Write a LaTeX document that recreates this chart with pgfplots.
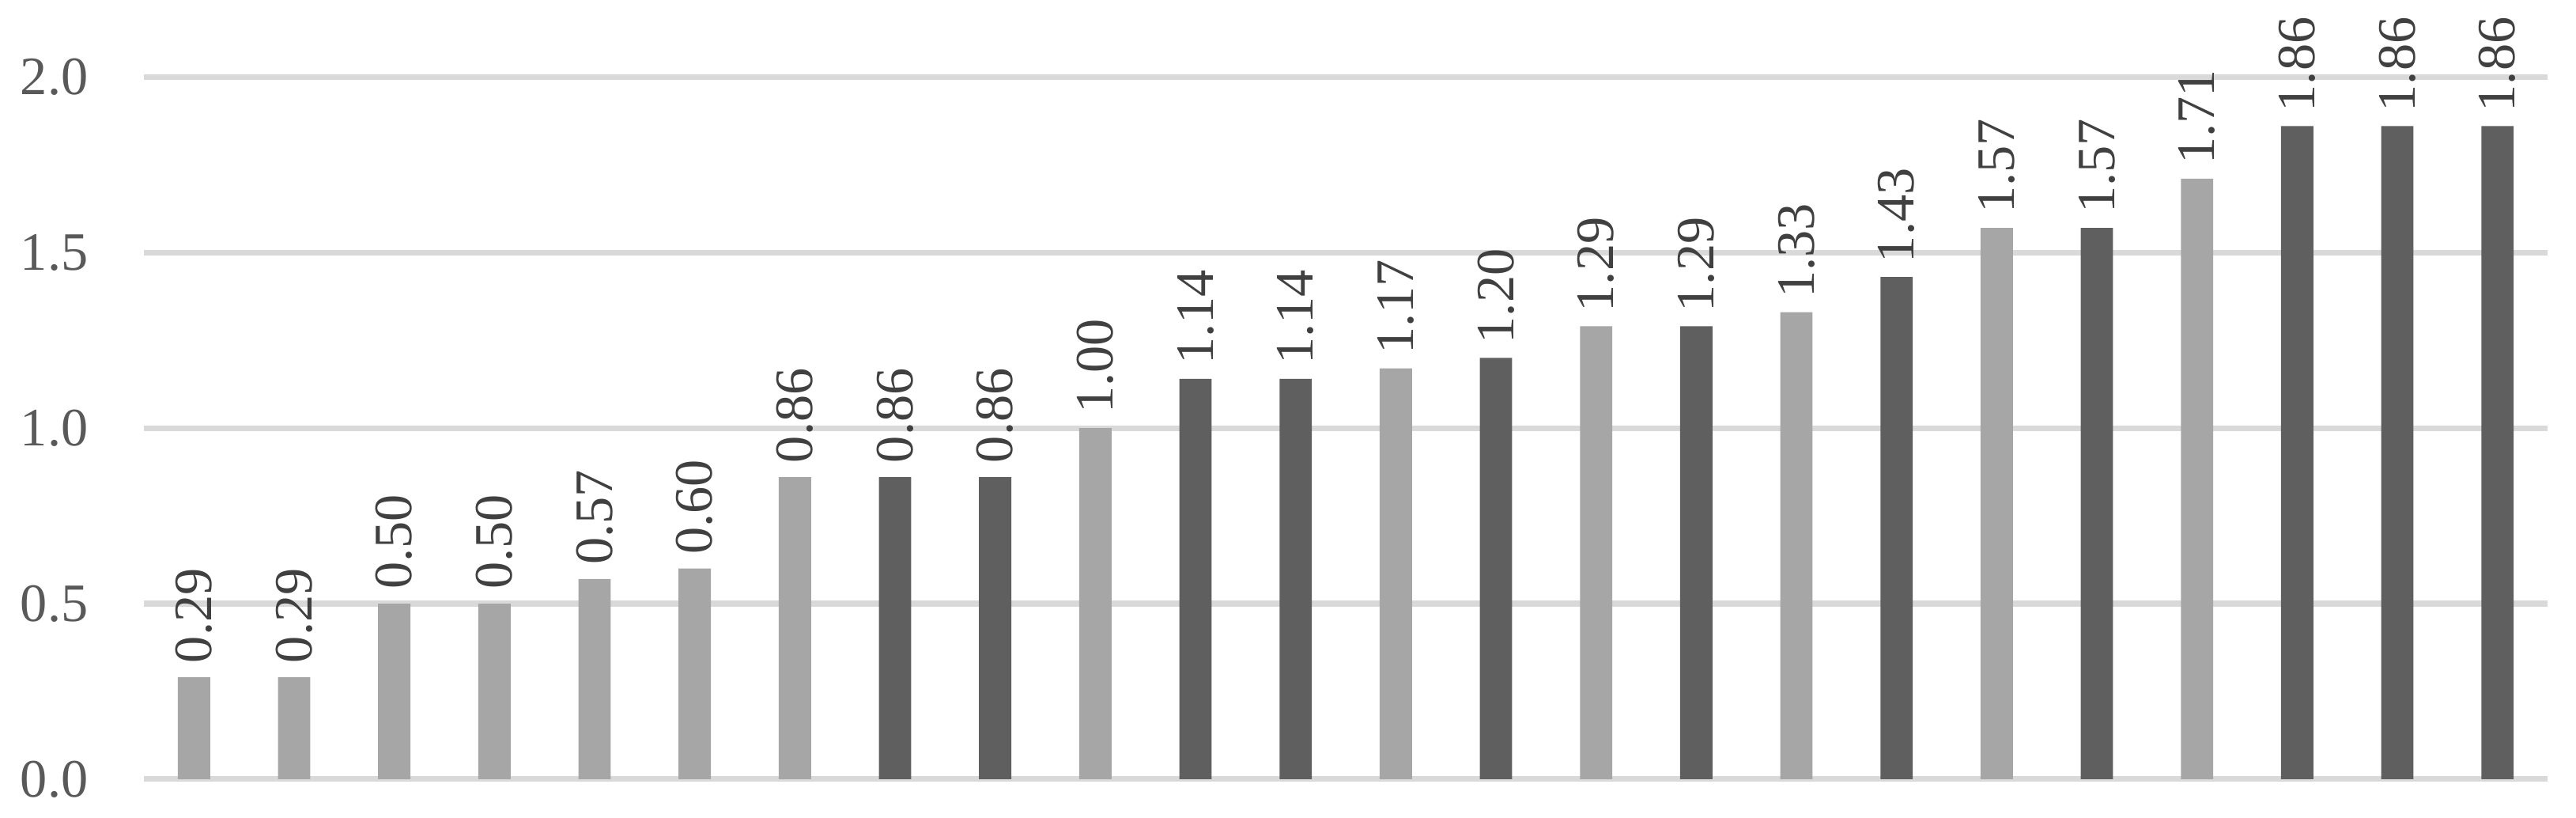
\documentclass[border=0pt]{standalone}
\usepackage{fontspec}
\setmainfont{Liberation Serif}
\usepackage{pgfplots}
\pgfplotsset{compat=1.18}
\definecolor{barLight}{HTML}{A6A6A6}
\definecolor{barDark}{HTML}{5F5F5F}
\definecolor{gridGray}{HTML}{D9D9D9}
\definecolor{tickGray}{HTML}{595959}
\definecolor{labelGray}{HTML}{404040}

\begin{document}
\begin{tikzpicture}
\begin{axis}[
    name=ax,
    width=453.7pt, height=132.5pt,
    scale only axis,
    xmin=-0.5, xmax=23.5,
    ymin=0, ymax=2,
    ytick={0,0.5,1,1.5,2},
    xtick=\empty,
    ymajorgrids,
    grid style={gridGray, line width=1.05pt},
    axis line style={draw=none},
    ytick style={draw=none},
    /pgf/number format/assume math mode=true,
    yticklabel style={font=\fontsize{10.2}{12}\selectfont, color=tickGray,
        xshift=-7pt,
        /pgf/number format/.cd, fixed, fixed zerofill, precision=1},
    ybar, bar width=6.1pt, bar shift=0pt,
    clip=false,
    nodes near coords,
    every node near coord/.append style={rotate=90, anchor=west, inner sep=2.5pt,
        font=\fontsize{10.2}{12}\selectfont, color=labelGray,
        /pgf/number format/.cd, fixed, fixed zerofill, precision=2},
]
% light bars
\addplot[draw=none, fill=barLight] coordinates {
    (0,0.29) (1,0.29) (2,0.50) (3,0.50) (4,0.57) (5,0.60) (6,0.86)
    (9,1.00) (12,1.17) (14,1.29) (16,1.33) (18,1.57) (20,1.71)
};
% dark bars
\addplot[draw=none, fill=barDark] coordinates {
    (7,0.86) (8,0.86) (10,1.14) (11,1.14) (13,1.20) (15,1.29)
    (17,1.43) (19,1.57) (21,1.86) (22,1.86) (23,1.86)
};
\end{axis}
\pgfresetboundingbox
\path ([shift={(-27.16pt,-7.3pt)}]ax.south west) rectangle ([shift={(5.37pt,14.5pt)}]ax.north east);
\end{tikzpicture}
\end{document}
